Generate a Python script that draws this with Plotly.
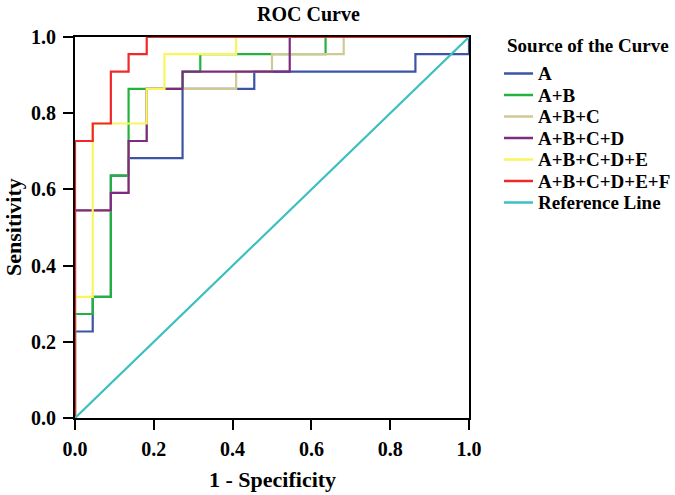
import plotly.graph_objects as go

# ---- data ----
series_names = ["A", "A+B", "A+B+C", "A+B+C+D", "A+B+C+D+E", "A+B+C+D+E+F", "Reference Line"]
series_colors = ["#3b54a5", "#22b33f", "#cfc994", "#7d2b7f", "#f9f65c", "#f0282a", "#3cbfbf"]

a_x = [0, 0, 0.045, 0.045, 0.091, 0.091, 0.136, 0.136, 0.273, 0.273, 0.455, 0.455, 0.864, 0.864, 1.0, 1.0]
a_y = [0, 0.227, 0.227, 0.318, 0.318, 0.636, 0.636, 0.682, 0.682, 0.864, 0.864, 0.909, 0.909, 0.955, 0.955, 1.0]

ab_x = [0, 0, 0.045, 0.045, 0.091, 0.091, 0.136, 0.136, 0.273, 0.273, 0.318, 0.318, 0.636, 0.636, 1.0]
ab_y = [0, 0.273, 0.273, 0.318, 0.318, 0.636, 0.636, 0.864, 0.864, 0.909, 0.909, 0.955, 0.955, 1.0, 1.0]

abc_x = [0, 0, 0.091, 0.091, 0.136, 0.136, 0.182, 0.182, 0.409, 0.409, 0.5, 0.5, 0.682, 0.682, 1.0]
abc_y = [0, 0.545, 0.545, 0.591, 0.591, 0.727, 0.727, 0.864, 0.864, 0.909, 0.909, 0.955, 0.955, 1.0, 1.0]

abcd_x = [0, 0, 0.091, 0.091, 0.136, 0.136, 0.182, 0.182, 0.273, 0.273, 0.545, 0.545, 1.0]
abcd_y = [0, 0.545, 0.545, 0.591, 0.591, 0.727, 0.727, 0.864, 0.864, 0.909, 0.909, 1.0, 1.0]

abcde_x = [0, 0, 0.045, 0.045, 0.182, 0.182, 0.227, 0.227, 0.409, 0.409, 1.0]
abcde_y = [0, 0.318, 0.318, 0.773, 0.773, 0.864, 0.864, 0.955, 0.955, 1.0, 1.0]

abcdef_x = [0, 0, 0.045, 0.045, 0.091, 0.091, 0.136, 0.136, 0.182, 0.182, 1.0]
abcdef_y = [0, 0.727, 0.727, 0.773, 0.773, 0.909, 0.909, 0.955, 0.955, 1.0, 1.0]

ref_x = [0, 1]
ref_y = [0, 1]

tick_vals = [0.0, 0.2, 0.4, 0.6, 0.8, 1.0]
tick_text = ["0.0", "0.2", "0.4", "0.6", "0.8", "1.0"]

series_x = [a_x, ab_x, abc_x, abcd_x, abcde_x, abcdef_x, ref_x]
series_y = [a_y, ab_y, abc_y, abcd_y, abcde_y, abcdef_y, ref_y]

FONT = "Liberation Serif"

FIG_W, FIG_H = 675, 495
PL, PT, PW, PH = 75, 37, 394, 381

fig = go.Figure()
for name, color, xs, ys in zip(series_names, series_colors, series_x, series_y):
    fig.add_trace(go.Scatter(x=xs, y=ys, mode="lines", name=name,
                             line=dict(color=color, width=2.2), showlegend=False))

# positions below are page pixels converted to paper coordinates
def px_x(p):
    return (p - PL) / PW
def px_y(p):
    return (PT + PH - p) / PH

def bold(size):
    return dict(family=FONT, size=size, color="black", weight="bold")

# chart title
fig.add_annotation(x=px_x(255), y=px_y(14), xref="paper", yref="paper",
                   text="ROC Curve", showarrow=False, xanchor="left", yanchor="middle",
                   font=bold(20))
# axis titles
fig.add_annotation(x=0.5, y=px_y(479), xref="paper", yref="paper",
                   text="1 - Specificity", showarrow=False, xanchor="center", yanchor="middle",
                   font=bold(22))
fig.add_annotation(x=px_x(13), y=px_y(227), xref="paper", yref="paper",
                   text="Sensitivity", showarrow=False, xanchor="center", yanchor="middle",
                   textangle=-90, font=bold(22))

# manual legend (tight row spacing as in the reference)
fig.add_annotation(x=px_x(505), y=px_y(45), xref="paper", yref="paper",
                   text="Source of the Curve", showarrow=False, xanchor="left", yanchor="middle",
                   font=bold(19))
row0 = 73.5
gap = 21.5
for i, (name, color) in enumerate(zip(series_names, series_colors)):
    yy = px_y(row0 + i * gap)
    fig.add_shape(type="line", xref="paper", yref="paper",
                  x0=px_x(504), x1=px_x(533), y0=yy, y1=yy,
                  line=dict(color=color, width=2.5))
    fig.add_annotation(x=px_x(536), y=yy, xref="paper", yref="paper", text=name,
                       showarrow=False, xanchor="left", yanchor="middle",
                       font=bold(19))

axis_common = dict(range=[0, 1], tickvals=tick_vals, ticktext=tick_text,
                   showgrid=False, zeroline=False, showline=True, linecolor="black",
                   linewidth=2, mirror=True, ticks="outside", ticklen=10, tickwidth=2,
                   tickcolor="black", tickfont=bold(20))

fig.update_layout(
    width=FIG_W, height=FIG_H,
    margin=dict(l=PL, r=FIG_W - PL - PW, t=PT, b=FIG_H - PT - PH),
    paper_bgcolor="white", plot_bgcolor="white",
    hovermode=False,
    xaxis=dict(**axis_common, ticklabelstandoff=2),
    yaxis=dict(**axis_common, ticklabelstandoff=3),
)

# remove the browser's default 8px body margin so the figure sits at the page origin
fig.write_html("out.html", config={"displayModeBar": False},
               post_script="document.body.style.margin='0px';")
